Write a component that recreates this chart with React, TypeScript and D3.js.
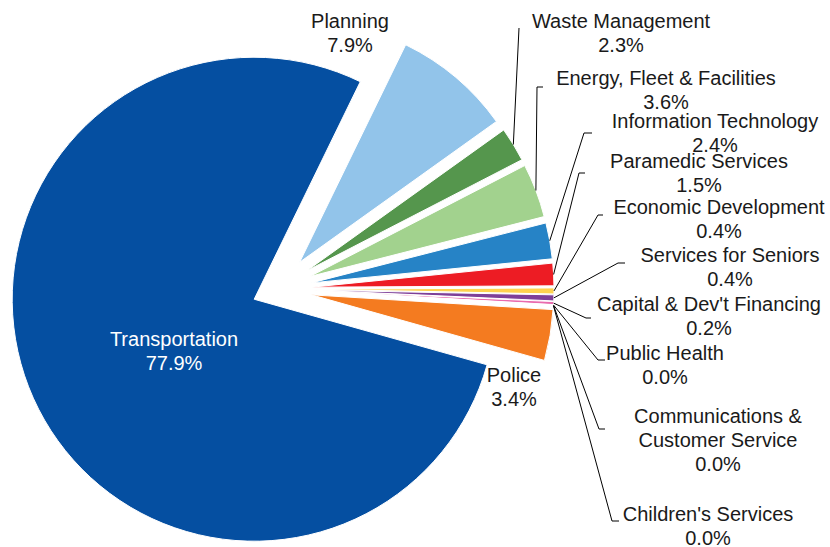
import React from "react";
import * as d3 from "d3";

const categories = [
  "Planning",
  "Waste Management",
  "Energy, Fleet & Facilities",
  "Information Technology",
  "Paramedic Services",
  "Economic Development",
  "Services for Seniors",
  "Capital & Dev't Financing",
  "Public Health",
  "Communications & Customer Service",
  "Children's Services",
  "Police",
  "Transportation",
];
const values = [7.9, 2.3, 3.6, 2.4, 1.5, 0.4, 0.4, 0.2, 0.03, 0.02, 0.01, 3.4, 77.9];
const labelLines = [
  ["Planning"],
  ["Waste Management"],
  ["Energy, Fleet & Facilities"],
  ["Information Technology"],
  ["Paramedic Services"],
  ["Economic Development"],
  ["Services for Seniors"],
  ["Capital & Dev't Financing"],
  ["Public Health"],
  ["Communications &", "Customer Service"],
  ["Children's Services"],
  ["Police"],
  ["Transportation"],
];
const colors = [
  "#92C4EA", "#55964D", "#A2D28E", "#2683C6", "#ED1C24", "#FFD24F",
  "#7E3F98", "#E96BAE", "#A9A9A9", "#BFDCCB", "#E0E0E0", "#F47B20", "#054FA1",
];
// layout: label anchor (center x, first baseline y), leader elbow & end (null = no leader)
const labelPos: [number, number][] = [
  [350, 28], [621, 27.5], [666, 85], [715, 127.5], [699, 168], [719, 214],
  [730, 262], [709, 311], [665, 360], [718, 423], [708, 521], [514, 382], [174, 346],
];
const leaders: ([number, number, number] | null)[] = [
  null, [519, 28, 519], [537, 87, 543], [584, 133, 592], [579, 173, 585],
  [598, 215, 603], [618, 263, 625], [586, 318, 591], [598, 360, 605],
  [599, 429, 605], [612, 521, 619], null, null,
];
const explode = [35, 35, 35, 35, 35, 35, 35, 35, 35, 35, 35, 35, 25];

const W = 830, H = 547;
const CX = 277, CY = 289, R = 242;
const START = (26 * Math.PI) / 180;

export default function App() {
  const pie = d3
    .pie<number>()
    .sort(null)
    .value((d) => d)
    .startAngle(START)
    .endAngle(START + 2 * Math.PI);
  const arcs = pie(values);
  const arc = d3.arc<d3.PieArcDatum<number>>().innerRadius(0).outerRadius(R);
  const total = d3.sum(values);

  return (
    <svg
      width={W}
      height={H}
      style={{ position: "absolute", left: 0, top: 0, background: "#fff" }}
      fontFamily="'Liberation Sans', Arial, sans-serif"
      fontSize={20}
    >
      {arcs.map((a, i) => {
        const mid = (a.startAngle + a.endAngle) / 2;
        const dx = Math.sin(mid) * explode[i];
        const dy = -Math.cos(mid) * explode[i];
        return (
          <path
            key={"s" + i}
            d={arc(a) || ""}
            transform={`translate(${CX + dx},${CY + dy})`}
            fill={colors[i]}
            stroke="#fff"
            strokeWidth={1}
          />
        );
      })}
      {arcs.map((a, i) => {
        const L = leaders[i];
        if (!L) return null;
        const mid = (a.startAngle + a.endAngle) / 2;
        const sx = CX + Math.sin(mid) * (explode[i] + R);
        const sy = CY - Math.cos(mid) * (explode[i] + R);
        return (
          <polyline
            key={"l" + i}
            points={`${sx},${sy} ${L[0]},${L[1]} ${L[2]},${L[1]}`}
            fill="none"
            stroke="#000"
            strokeWidth={1}
          />
        );
      })}
      {categories.map((c, i) => {
        const lines = [...labelLines[i], ((values[i] / total) * 100).toFixed(1) + "%"];
        const [x, y] = labelPos[i];
        return (
          <text
            key={"t" + i}
            x={x}
            y={y}
            textAnchor="middle"
            fill={i === categories.length - 1 ? "#fff" : "#1a1a1a"}
          >
            {lines.map((ln, j) => (
              <tspan key={j} x={x} y={y + j * 24}>
                {ln}
              </tspan>
            ))}
          </text>
        );
      })}
    </svg>
  );
}
